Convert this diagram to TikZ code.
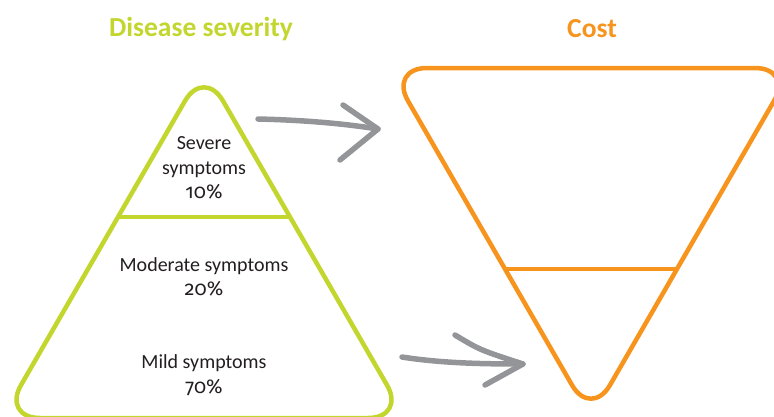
\documentclass[tikz,border=0pt]{standalone}
\usepackage{fontspec}
\setmainfont{Carlito}
\newfontfamily\oldnums{Fira Sans}[Numbers=OldStyle]
\usetikzlibrary{calc}

\definecolor{severitygreen}{HTML}{C2D62E}
\definecolor{costorange}{HTML}{F7941D}
\definecolor{arrowgray}{HTML}{939598}
\definecolor{textdark}{HTML}{231F20}

\newcommand*{\gband}{0.4257}
\newcommand*{\oband}{0.574}
\newcommand*{\share}[1]{{\oldnums #1\%}}

\begin{document}
\begin{tikzpicture}
[
	x=1pt,y=-1pt,
	tri/.style={line width=4.5pt,rounded corners=38pt,line join=round},
	band/.style={line width=4.5pt},
	brush/.style={draw=arrowgray,line width=5.5pt,line cap=round,line join=round},
	label/.style={align=center,text=textdark,font=\fontsize{20}{24.5}\selectfont},
	title/.style={anchor=base,font=\fontsize{27.5}{32}\selectfont\bfseries}
]

	\clip (0,0) rectangle (774,416);

	% disease severity pyramid
	\coordinate (g top) at (204,68);
	\coordinate (g left) at (2,418);
	\coordinate (g right) at (406,418);
	\draw[tri,severitygreen] (g top) -- (g right) -- (g left) -- cycle;
	\draw[band,severitygreen] ($(g top)!\gband!(g left)$) -- ($(g top)!\gband!(g right)$);

	% cost pyramid, upside down
	\coordinate (o left) at (389,68);
	\coordinate (o right) at (793,68);
	\coordinate (o tip) at (591,418);
	\draw[tri,costorange] (o left) -- (o right) -- (o tip) -- cycle;
	\draw[band,costorange] ($(o left)!\oband!(o tip)$) -- ($(o right)!\oband!(o tip)$);

	% titles
	\node[title,severitygreen] (severity) at (201,36) {Disease severity};
	\node[title,costorange] (cost) at (592,37) {Cost};

	% levels
	\node[label] (severe) at (204,168) {Severe\\symptoms\\\share{10}};
	\node[label] (moderate) at (204,277) {Moderate symptoms\\\share{20}};
	\node[label] (mild) at (204,375) {Mild symptoms\\\share{70}};

	% upper arrow
	\coordinate (up tail) at (258,119);
	\coordinate (up tip) at (378,129);
	\draw[brush] (up tail) .. controls (300,120) and (340,123) .. (up tip);
	\draw[brush] (343,105) -- (up tip) -- (340,160);

	% lower arrow
	\coordinate (low tail) at (402,357);
	\coordinate (low tip) at (523,364);
	\draw[brush] (low tail) .. controls (440,363) and (480,364) .. (low tip);
	\draw[brush] (455,335) .. controls (480,350) .. (low tip) -- (485,385);

\end{tikzpicture}
\end{document}
